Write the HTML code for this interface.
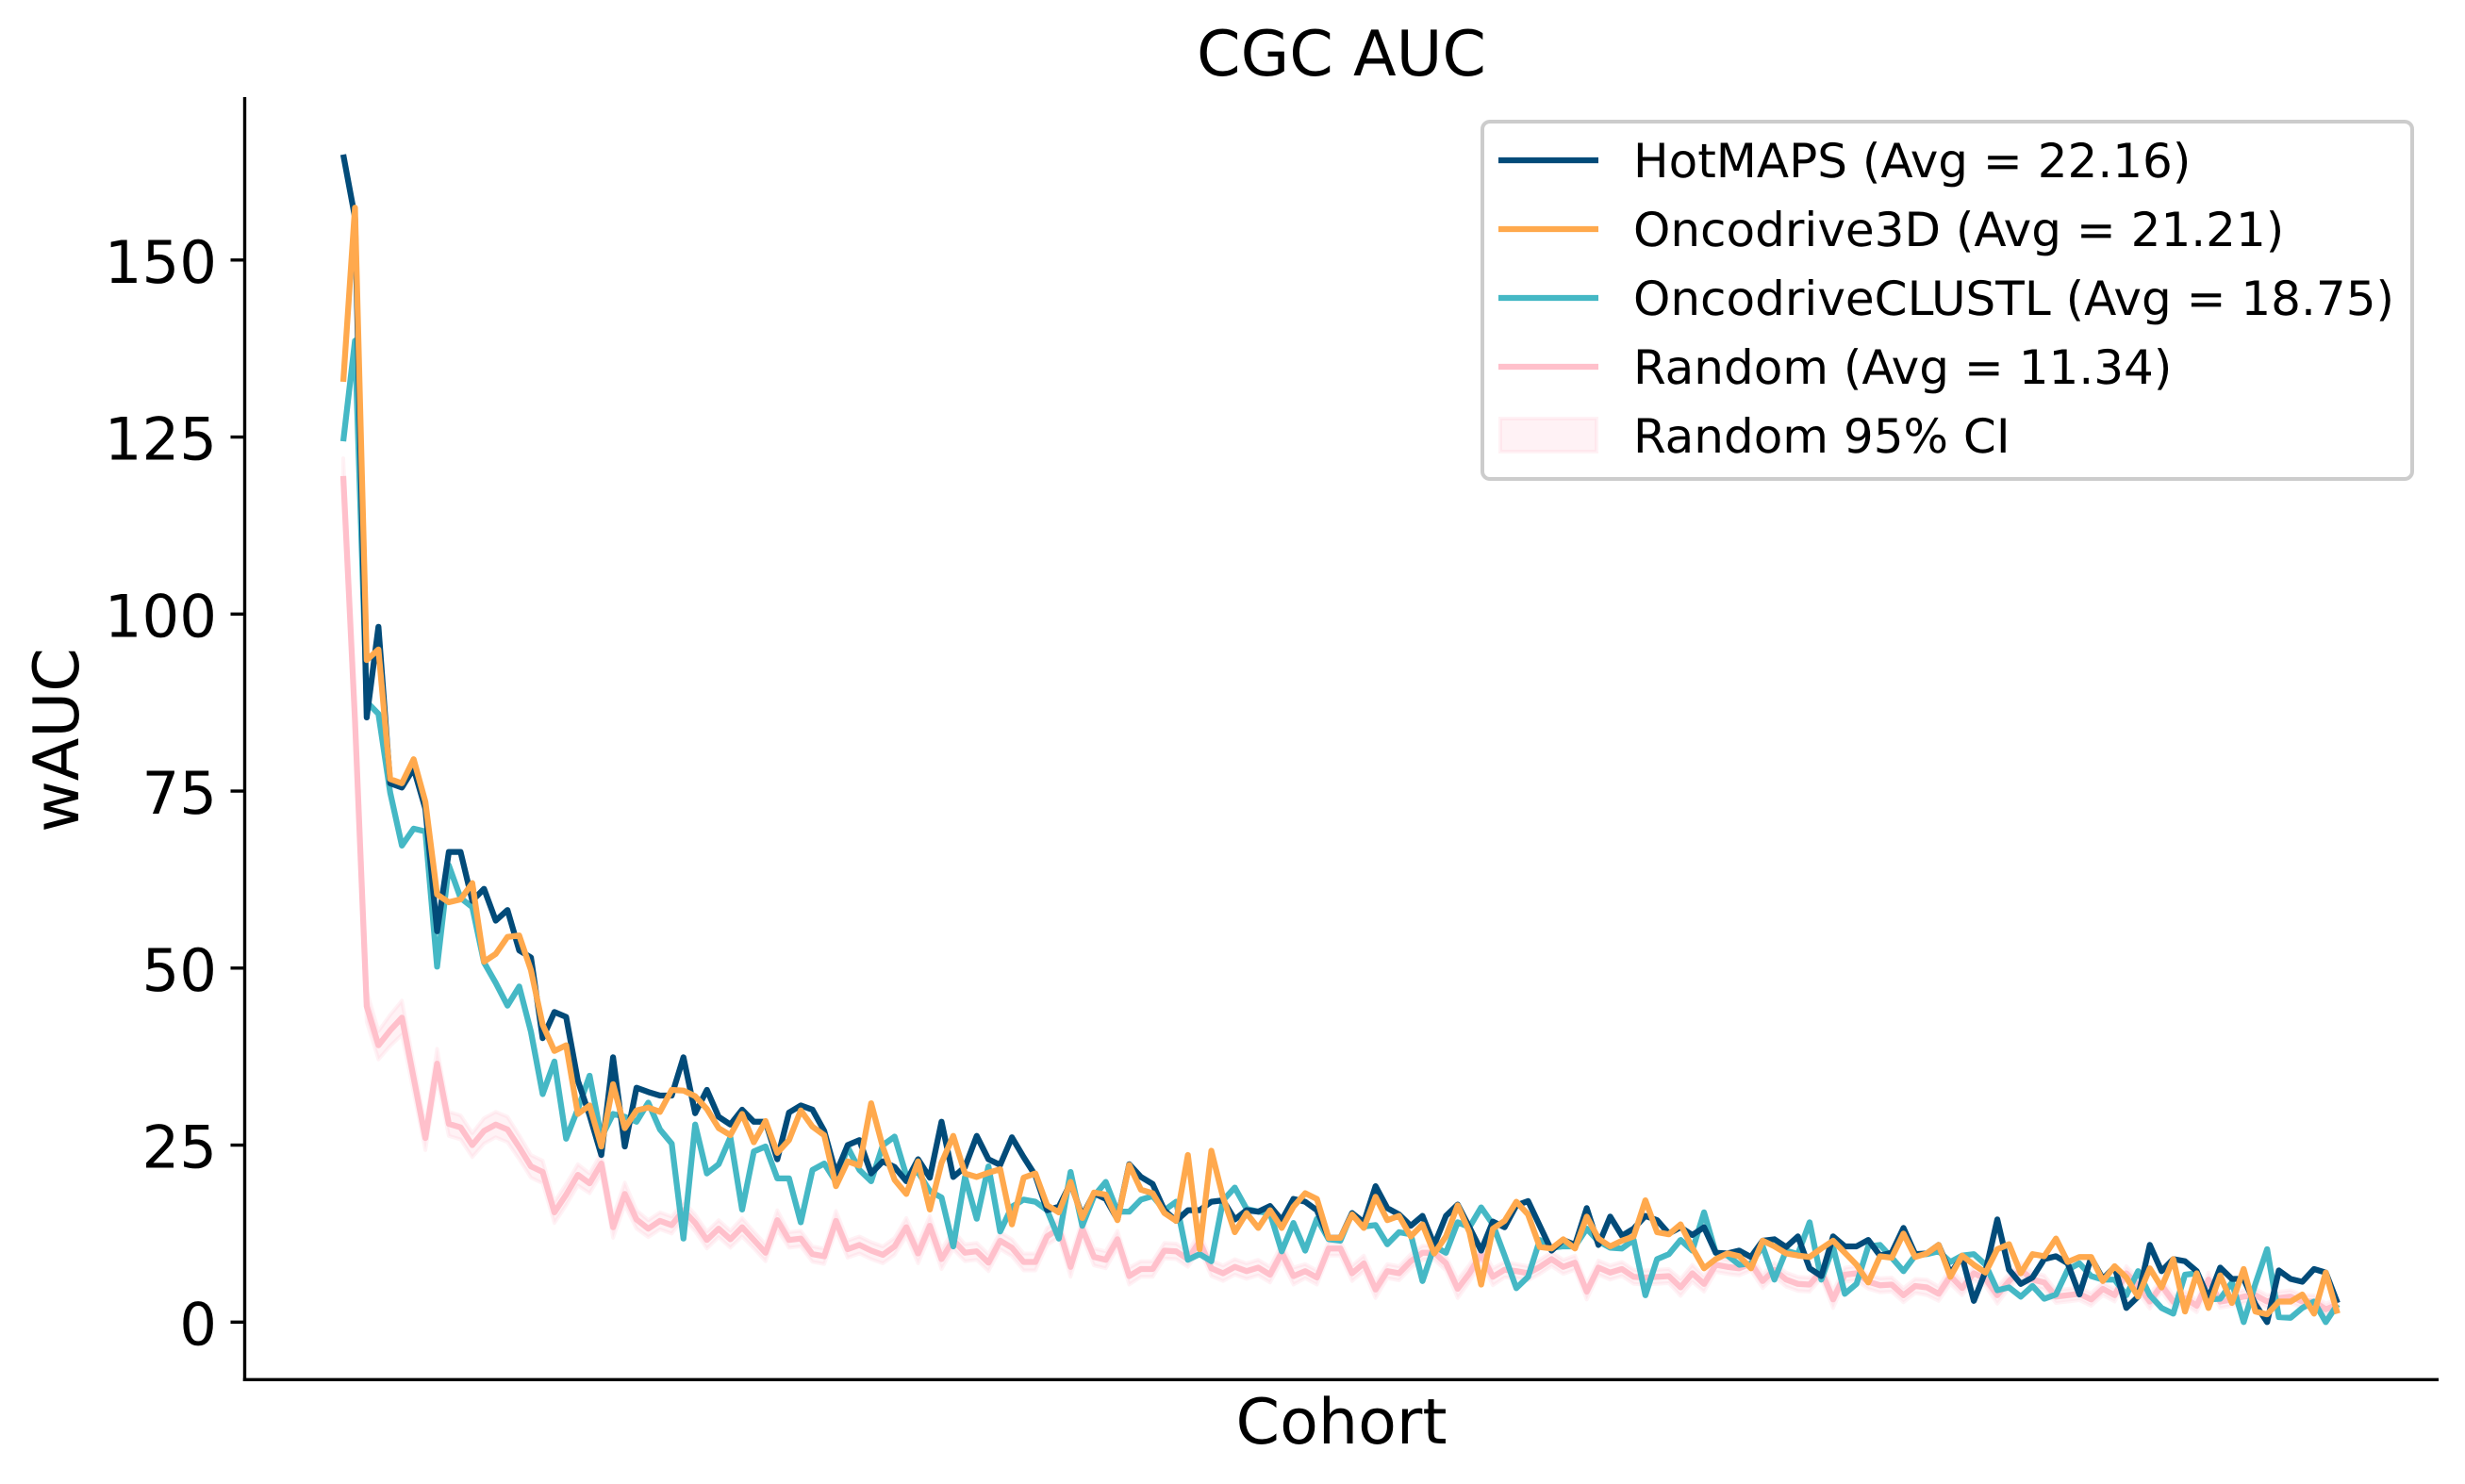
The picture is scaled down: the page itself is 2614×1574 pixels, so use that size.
<!DOCTYPE html>
<html lang="en">
<head>
<meta charset="utf-8">
<title>CGC AUC</title>
<style>
html,body{margin:0;padding:0;background:#fff;}
svg{display:block;}
text{font-family:"DejaVu Sans","Liberation Sans",sans-serif;fill:#000;text-rendering:geometricPrecision;}
</style>
</head>
<body>
<svg id="chart" xmlns="http://www.w3.org/2000/svg" width="2614" height="1574" viewBox="0 0 2614 1574">
  <rect x="0" y="0" width="2614" height="1574" fill="#fff"/>
  <g id="plot"></g>
  <g id="axes"></g>
  <text x="1422.5" y="80" font-size="66.7" text-anchor="middle">CGC AUC</text>
  <text x="1422.5" y="1531" font-size="66.7" text-anchor="middle">Cohort</text>
  <text transform="translate(83,785) rotate(-90)" font-size="66.7" text-anchor="middle">wAUC</text>
  <g>
    <rect x="1572" y="129" width="986" height="379" rx="8" ry="8" fill="#fff" fill-opacity="0.8" stroke="#cccccc" stroke-width="4"/>
    <line x1="1589" x2="1695" y1="170" y2="170" stroke="#024b79" stroke-width="6.25"/>
    <text x="1732" y="188" font-size="50">HotMAPS (Avg = 22.16)</text>
    <line x1="1589" x2="1695" y1="243" y2="243" stroke="#ffa94d" stroke-width="6.25"/>
    <text x="1732" y="261" font-size="50">Oncodrive3D (Avg = 21.21)</text>
    <line x1="1589" x2="1695" y1="316" y2="316" stroke="#45b8c5" stroke-width="6.25"/>
    <text x="1732" y="334" font-size="50">OncodriveCLUSTL (Avg = 18.75)</text>
    <line x1="1589" x2="1695" y1="389" y2="389" stroke="#ffc0cb" stroke-width="6.25"/>
    <text x="1732" y="407" font-size="50">Random (Avg = 11.34)</text>
    <rect x="1591" y="444" width="102" height="35" fill="#ffc0cb" fill-opacity="0.2" stroke="#ffc0cb" stroke-opacity="0.2" stroke-width="4"/>
    <text x="1732" y="480" font-size="50">Random 95% CI</text>
  </g>
</svg>
<script>
const yTickValues = [0, 25, 50, 75, 100, 125, 150];

const hotmapsValues = [
164.9,156,85.4,98.2,76.1,75.5,78.2,72.5,55.2,66.4,
66.4,59.5,61.2,56.7,58.2,52.5,51.5,40.1,43.8,43.1,
34.1,29.2,23.6,37.4,24.8,33.1,32.5,32,32,37.4,
29.5,32.8,29,27.9,30,28.3,28.3,23,29.6,30.6,
30,27,21,25,25.7,21,22.7,21.9,19.9,23,
20.4,28.3,20.5,21.9,26.3,23,22.2,26.1,23.3,20.7,
15.8,16.3,19.6,15,18.2,17.4,14.5,22.3,20.5,19.5,
15.8,14.3,15.8,15.8,17,17.2,14.5,15.8,15.6,16.4,
14.4,17.4,17,15.8,11.9,11.9,15.4,14.1,19.2,16.1,
15.2,13.6,15,10.9,15,16.6,13.4,10.1,14.2,13.4,
16.5,17.1,13.6,10.1,11.6,10.9,16.1,10.9,14.9,12.2,
13.2,15,14.4,12.5,13.4,12.3,13.4,9.8,9.7,10.1,
9.2,11.5,11.7,10.6,12.1,7.6,6.5,12.1,10.7,10.7,
11.6,9.4,9.8,13.3,9.6,9.7,10.9,6.9,9.2,3,
7.2,14.5,7.4,5.4,6.3,8.9,9.3,8.3,3.9,9.1,
6.1,7.8,2,3.6,10.9,7.2,8.9,8.6,7.2,3.4,
7.7,6.1,6.1,2.5,0,7.3,6.1,5.7,7.5,7,2.7];

const oncodrive3dValues = [
132.8,157.4,93.5,95,76.7,76.1,79.5,73.5,60.4,59.3,
59.7,62,50.9,52,54.4,54.6,49.7,42,38.3,39.1,
29.4,30.6,24.8,33.6,27.4,29.9,30.3,29.7,32.8,32.7,
31.9,30.1,27.4,26.4,29.4,25.4,28.4,23.9,25.7,29.9,
27.6,26.4,19.2,22.7,22.1,30.9,24.7,20.1,18.1,22.7,
15.9,22.5,26.3,21,20.5,21.1,21.6,13.8,20.4,21,
16.5,15.5,19.8,14.7,18.3,18,14.4,22.2,18.7,18.2,
15.4,14.3,23.6,10.3,24.2,17.6,12.7,15.4,13.3,15.8,
13.3,16.3,18.2,17.4,11.9,11.9,15.2,13.3,17.7,14.4,
15,12.1,13.8,9.7,12.1,16.5,12.7,5.3,13.2,14.3,
17,15.2,10.6,10.4,11.7,10.4,14.9,11.8,10.7,11.5,
12.1,17.2,12.7,12.4,13.8,10.5,7.6,8.9,9.7,9.3,
7.6,11.5,10.7,9.7,9.4,9.2,10.4,11.5,9.8,8.1,
5.6,9.3,9.1,12.5,9.2,9.7,10.9,6.4,9.4,8.1,
7,10.3,11,6.9,9.6,9.3,11.8,8.5,9.2,9.2,
5.8,7.9,6.3,3.6,7.6,4.9,8.9,1.5,6.9,2,
6.6,2.7,7.5,1.5,1.1,2.9,2.9,3.9,1.2,7,1.2];

const oncodriveClustlValues = [
124.4,138.6,87.6,85.9,74.8,67.3,69.7,69.3,50.2,64.5,
59.9,58.6,50.8,47.9,44.7,47.4,41,32.2,36.8,25.9,
30.1,34.8,26.1,29.4,29,28.3,31,27.2,25.2,11.8,
27.9,21,22.3,26.1,15.9,24.1,24.8,20.3,20.3,14.1,
21.5,22.4,19.8,24.7,21.5,19.9,25,26.2,20.7,21.2,
18.5,17.6,10.7,20.5,14.6,22,12.8,16.3,17.3,17,
15.8,11.8,21.2,13.6,17.8,19.8,15.6,15.6,17.3,17.8,
15.8,17,8.8,9.6,8.6,17.2,19,16,15.6,15.4,
10,14,10.1,14.6,11.7,11.5,15.4,13.5,13.7,11,
12.7,12.4,5.8,10.7,9.8,14.1,13.4,16.2,13.8,9.4,
4.8,6.4,11.6,10.5,10.7,10.7,13.2,11.4,10.5,10.4,
11.6,3.8,8.9,9.6,11.6,10.1,15.5,9.8,9.4,8.1,
8.3,10.7,6,10.1,9.6,14.1,6,10.6,4,5.4,
10.7,10.9,9.1,7.2,9.4,9.6,10,8.5,9.4,9.6,
8.1,4.5,4.9,3.6,5.1,3.3,3.9,7.4,8.3,6.5,
6,6,3.8,7.2,3.8,2,1.2,6.7,6.9,3.2,
3.3,5.6,0,5.4,10.3,0.7,0.6,2,2.9,0,2.5];

const randomValues = [
119.5,85,44.6,39.1,41.2,43,34.5,26,36.5,28,
27.5,25,27,27.9,27.2,24.7,22,21.2,15.5,18,
20.8,19.6,22.4,13.4,18.1,14.5,13.2,14.3,13.7,15.8,
14,11.6,13.2,11.7,13.4,11.6,9.8,14.4,11.6,11.8,
9.6,9.3,14.3,10.3,10.9,10.1,9.5,10.7,13.4,9.7,
13.6,8.9,11.6,9.8,10,8.4,11.5,10.5,8.5,8.5,
12.1,13.2,7.8,13.2,9.2,8.8,11.7,6.5,7.5,7.5,
10.1,10,8.9,11.4,7.6,6.9,7.8,7.2,7.7,6.7,
9.8,6.5,7.2,6.3,10.4,10.4,6.9,8.3,4.6,7.2,
6.9,8.6,9.8,9.8,8.3,4.7,6.9,9.6,6.4,7.4,
7.2,6.9,7.8,8.9,7.8,8.4,4.3,7.7,7,7.5,
6.4,6.3,6.4,6.5,4.9,6.9,5.4,8.1,7.8,7.6,
8.3,5.8,7.4,6,5.4,5.3,7.2,3.2,6.7,6.9,
5.7,5.2,5.3,3.8,5.1,4.9,4,6.5,4.8,6.9,
6.1,3.8,5.8,7.4,6,5.6,3.6,3.8,4,3.2,
4.7,3.8,6.9,5.2,2.9,5.2,2.9,3.4,2.3,6,
2.9,3.2,3.6,3.8,2.9,3.4,3.6,2.9,2.9,1.8,2.5];

const randomCiHalfWidths = [
2.5,2.4,2.2,2,2.2,2.4,2,1.7,2.1,1.7,
1.7,1.7,1.8,1.8,1.8,1.7,1.6,1.6,1.5,1.5,
1.5,1.4,1.5,1.5,1.6,1.3,1.2,1.2,1.2,1.2,
1.2,1.2,1.2,1.2,1.3,1.2,1.2,1.4,1.1,1.1,
1.1,1.1,1.4,1.2,1.2,1.2,1.2,1.2,1.3,1.4,
1.4,1.4,1.3,1.2,1.2,1.2,1.2,1.2,1.2,1.2,
1.2,1.2,1.4,1.2,1.2,1.2,1.2,1.2,1.1,1.1,
1.1,1.1,1.1,1.2,1.1,1.1,1.1,1.1,1.1,1.1,
1.2,1.2,1,1,1,1,1.1,1.1,1.2,1,
1,1,1,1,1,1.3,1.2,1.1,1.2,1.1,
1,1,1,1,1,1,1.1,1,1,1,
1,1,1,1,1.2,1.2,1.1,1,1,1,
1,1,1,1,1,1,1,1.2,1,1,
1,1,1,1,1,1.1,1,1.1,1,1,
1,1.2,1,1,1,1,0.9,0.9,0.9,0.9,
0.9,0.9,1,1,1,0.9,0.9,0.9,0.9,1,
0.9,0.9,0.9,0.9,0.9,0.9,0.9,0.9,0.9,0.8,0.8];

const SVG_NS = 'http://www.w3.org/2000/svg';
const plot = document.getElementById('plot');
const axes = document.getElementById('axes');

function xScale(i) { return 364 + 12.44 * i; }
function yScale(v) { return 1402.3 - 7.51 * v; }

function linePoints(values) {
  return values.map((v, i) => xScale(i).toFixed(2) + ',' + yScale(v).toFixed(2)).join(' ');
}

function makeSeries(values, color) {
  const el = document.createElementNS(SVG_NS, 'polyline');
  el.setAttribute('points', linePoints(values));
  el.setAttribute('fill', 'none');
  el.setAttribute('stroke', color);
  el.setAttribute('stroke-width', '6.25');
  el.setAttribute('stroke-linejoin', 'round');
  el.setAttribute('stroke-linecap', 'butt');
  return el;
}

const upperPts = randomValues.map((v, i) => xScale(i).toFixed(2) + ',' + yScale(v + randomCiHalfWidths[i]).toFixed(2));
const lowerPts = randomValues.map((v, i) => xScale(i).toFixed(2) + ',' + yScale(v - randomCiHalfWidths[i]).toFixed(2)).reverse();
const band = document.createElementNS(SVG_NS, 'polygon');


band.setAttribute('points', upperPts.concat(lowerPts).join(' '));
band.setAttribute('fill', '#ffc0cb');
band.setAttribute('fill-opacity', '0.2');
band.setAttribute('stroke', '#ffc0cb');
band.setAttribute('stroke-opacity', '0.2');
band.setAttribute('stroke-width', '4');
band.setAttribute('stroke-linejoin', 'round');
plot.appendChild(band);

const randomLine = makeSeries(randomValues, '#ffc0cb');


plot.appendChild(randomLine);

const clustlLine = makeSeries(oncodriveClustlValues, '#45b8c5');


plot.appendChild(clustlLine);

const hotmapsLine = makeSeries(hotmapsValues, '#024b79');


plot.appendChild(hotmapsLine);

const oncodrive3dLine = makeSeries(oncodrive3dValues, '#ffa94d');


plot.appendChild(oncodrive3dLine);

const leftSpine = document.createElementNS(SVG_NS, 'line');


leftSpine.setAttribute('x1', '259.5');
leftSpine.setAttribute('x2', '259.5');
leftSpine.setAttribute('y1', '103');
leftSpine.setAttribute('y2', '1465');
leftSpine.setAttribute('stroke', '#000');
leftSpine.setAttribute('stroke-width', '3.4');
axes.appendChild(leftSpine);

const bottomSpine = document.createElementNS(SVG_NS, 'line');


bottomSpine.setAttribute('x1', '257.8');
bottomSpine.setAttribute('x2', '2586');
bottomSpine.setAttribute('y1', '1463.3');
bottomSpine.setAttribute('y2', '1463.3');
bottomSpine.setAttribute('stroke', '#000');
bottomSpine.setAttribute('stroke-width', '3.4');
axes.appendChild(bottomSpine);

yTickValues.forEach(function (t) {
  const tick = document.createElementNS(SVG_NS, 'line');
  
  
  tick.setAttribute('x1', '244.5');
  tick.setAttribute('x2', '259.5');
  tick.setAttribute('y1', yScale(t));
  tick.setAttribute('y2', yScale(t));
  tick.setAttribute('stroke', '#000');
  tick.setAttribute('stroke-width', '3.4');
  axes.appendChild(tick);

  const label = document.createElementNS(SVG_NS, 'text');
  
  
  label.setAttribute('x', '230');
  label.setAttribute('y', yScale(t) + 24);
  label.setAttribute('font-size', '62.5');
  label.setAttribute('text-anchor', 'end');
  label.textContent = String(t);
  axes.appendChild(label);
});
</script>
</body>
</html>
